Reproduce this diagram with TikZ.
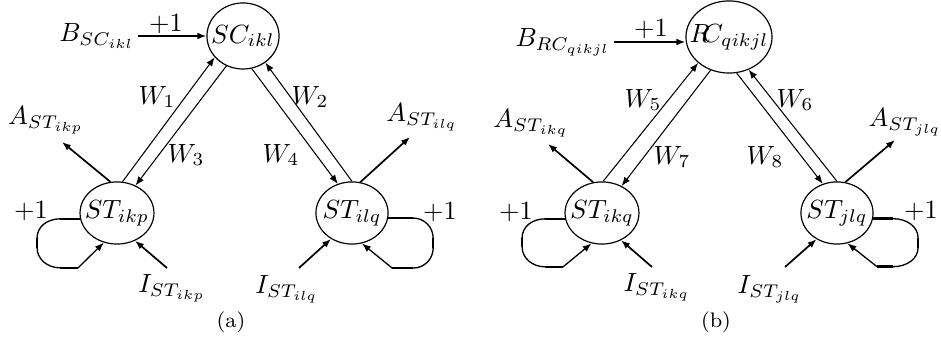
\documentclass[tikz,border=0pt]{standalone}
\usepackage{graphicx}
\usetikzlibrary{shapes.geometric,arrows.meta}
\newcommand{\zerobox}[1]{\makebox[0pt]{#1}}
\tikzset{
  ell/.style={draw, ellipse, inner sep=0pt, line width=0.45pt},
  lab/.style={inner sep=1pt},
  captxt/.style={inner sep=1pt, font=\footnotesize},
  arrtip/.style={-{Latex[length=3.4pt,width=2.6pt]}},
  wline/.style={arrtip, line width=0.4pt},
  aline/.style={arrtip, line width=0.65pt},
  loopl/.style={arrtip, line width=0.5pt},
  thickseg/.style={line width=0.95pt}
}
\begin{document}
\begin{tikzpicture}[x=0.38pt,y=-0.38pt]
\useasboundingbox (0,0) rectangle (941,343);

% ---------- (a) ----------
\node[ell, minimum width=27.4pt, minimum height=25.1pt] (SC) at (243,36) {\zerobox{$SC_{ikl}$}};
\node[ell, minimum width=28.1pt, minimum height=23.6pt] (STa) at (117,213) {\zerobox{$ST_{ikp}$}};
\node[ell, minimum width=27.4pt, minimum height=23.6pt] (STb) at (352,213) {\zerobox{$ST_{ilq}$}};

\node[lab] (Bsc) at (97,36) {$B_{SC_{ikl}}$};
\node[lab] (pa) at (166,24) {$+1$};
\draw[aline] (Bsc.east) -- (Bsc.east -| SC.west);

\node[lab] (W1) at (157,97) {$W_1$};
\node[lab] (W3) at (186,155) {$W_3$};
\node[lab] (W2) at (310,97) {$W_2$};
\node[lab] (W4) at (281,155) {$W_4$};
\draw[wline] (STa.80) -- (SC.217.7);
\draw[wline] (SC.241.3) -- (STa.56);
\draw[wline] (STb.90) -- (SC.310.6);
\draw[wline] (SC.285.7) -- (STb.116.6);

\node[lab] (Aa) at (46,120) {$A_{ST_{ikp}}$};
\coordinate (tAa) at (62,142);
\draw[aline] (STa.102.7) -- (tAa);
\node[lab] (Ab) at (422,117) {$A_{ST_{ilq}}$};
\coordinate (tAb) at (410,137);
\draw[aline] (STb.75.5) -- (tAb);

\node[lab] (Ia) at (172,288) {$I_{ST_{ikp}}$};
\coordinate (sIa) at (167,268);
\draw[aline] (sIa) -- (STa.303.2);
\node[lab] (Ib) at (287,289) {$I_{ST_{ilq}}$};
\coordinate (sIb) at (299,268);
\draw[aline] (sIb) -- (STb.231.8);

\node[lab] (pla) at (31,211) {$+1$};
\draw[loopl] (STa.189) coordinate (La0) -- ++(-20,0) coordinate (La1)
  .. controls +(-13,0) and +(0,-11) .. ++(-23,19) coordinate (La2)
  -- ++(0,10) coordinate (La3)
  .. controls +(0,11) and +(-13,0) .. ++(23,20) coordinate (La4)
  -- ++(18,0) coordinate (La5) -- (STa.246.6);
\draw[thickseg] (La0) -- (La1) (La2) -- (La3) (La4) -- (La5);

\node[lab] (plb) at (440,212) {$+1$};
\draw[loopl] (STb.352) coordinate (Lb0) -- ++(25,0) coordinate (Lb1)
  .. controls +(11,0) and +(0,-11) .. ++(20,20) coordinate (Lb2)
  -- ++(0,10) coordinate (Lb3)
  .. controls +(0,11) and +(11,0) .. ++(-20,20) coordinate (Lb4)
  -- ++(-21,0) coordinate (Lb5) -- (STb.288.4);
\draw[thickseg] (Lb0) -- (Lb1) (Lb2) -- (Lb3) (Lb4) -- (Lb5);

\node[captxt] (capa) at (231,322) {(a)};

% ---------- (b) ----------
\node[ell, minimum width=32.7pt, minimum height=27.4pt] (RC) at (729,37) {\zerobox{$R\mkern-5mu C_{qikjl}$}};
\node[ell, minimum width=28.1pt, minimum height=23.6pt] (STc) at (602,213) {\zerobox{$ST_{ikq}$}};
\node[ell, minimum width=27.4pt, minimum height=23.6pt] (STd) at (837,213) {\zerobox{$ST_{jlq}$}};

\node[lab] (Brc) at (563,42) {$B_{RC_{qikjl}}$};
\node[lab] (pb) at (651,29) {$+1$};
\draw[aline] (Brc.east) -- (Brc.east -| RC.west);

\node[lab] (W5) at (643,100) {$W_5$};
\node[lab] (W7) at (672,157) {$W_7$};
\node[lab] (W6) at (795,100) {$W_6$};
\node[lab] (W8) at (765,157) {$W_8$};
\draw[wline] (STc.88) -- (RC.220);
\draw[wline] (RC.241.5) -- (STc.54);
\draw[wline] (STd.90) -- (RC.301.4);
\draw[wline] (RC.282.9) -- (STd.116.6);

\node[lab] (Ac) at (531,123) {$A_{ST_{ikq}}$};
\coordinate (tAc) at (548,144);
\draw[aline] (STc.106.7) -- (tAc);
\node[lab] (Ad) at (905,122) {$A_{ST_{jlq}}$};
\coordinate (tAd) at (895,140);
\draw[aline] (STd.75) -- (tAd);

\node[lab] (Ic) at (657,287) {$I_{ST_{ikq}}$};
\coordinate (sIc) at (652,267);
\draw[aline] (sIc) -- (STc.305.5);
\node[lab] (Id) at (770,289) {$I_{ST_{jlq}}$};
\coordinate (sId) at (785,267);
\draw[aline] (sId) -- (STd.232.8);

\node[lab] (plc) at (516,212) {$+1$};
\draw[loopl] (STc.189) coordinate (Lc0) -- ++(-20,0) coordinate (Lc1)
  .. controls +(-13,0) and +(0,-11) .. ++(-23,19) coordinate (Lc2)
  -- ++(0,9) coordinate (Lc3)
  .. controls +(0,11) and +(-13,0) .. ++(23,20) coordinate (Lc4)
  -- ++(18,0) coordinate (Lc5) -- (STc.251);
\draw[thickseg] (Lc0) -- (Lc1) (Lc2) -- (Lc3) (Lc4) -- (Lc5);

\node[lab] (pld) at (921,211) {$+1$};
\draw[loopl] (STd.351) coordinate (Ld0) -- ++(20,0) coordinate (Ld1)
  .. controls +(14,0) and +(0,-11) .. ++(25,19) coordinate (Ld2)
  -- ++(0,10) coordinate (Ld3)
  .. controls +(0,11) and +(14,0) .. ++(-25,19) coordinate (Ld4)
  -- ++(-16,0) coordinate (Ld5) -- (STd.289);
\draw[thickseg] (Ld0) -- (Ld1) (Ld2) -- (Ld3) (Ld4) -- (Ld5);

\node[captxt] (capb) at (716,322) {(b)};
\end{tikzpicture}
\end{document}
